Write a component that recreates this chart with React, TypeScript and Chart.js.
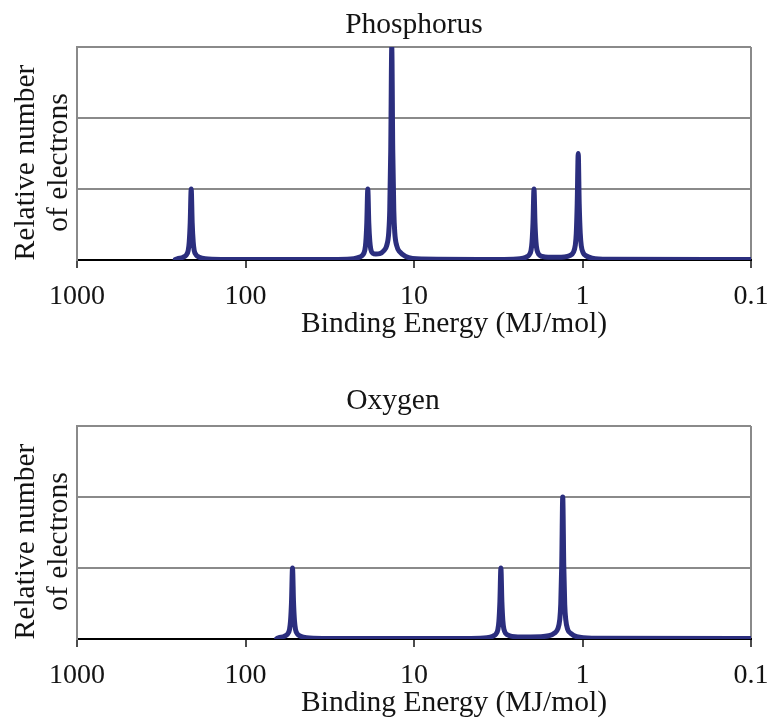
import React, { useEffect, useRef } from 'react';
import { Chart, registerables } from 'chart.js';

Chart.register(...registerables);

const FONT = '"Liberation Serif", "Times New Roman", serif';

const X_TICKS = [1000, 100, 10, 1, 0.1];
const X_TITLE = 'Binding Energy (MJ/mol)';
const Y_TITLE = ['Relative number', 'of electrons'];
const P_TITLE = 'Phosphorus';
const O_TITLE = 'Oxygen';

// Phosphorus spectrum (binding energy in MJ/mol, relative number of electrons)
const pEnergy = [
  261, 254.2, 234.2, 224.8, 218.8, 215.8, 212.9, 210, 207.2, 204.3, 201.6, 196.1, 188.3, 173.5, 139.4,
  28.3, 22.76, 20.97, 20.13, 19.59, 19.32, 19.06, 18.8, 18.55, 18.29, 18.05, 17.56, 16.85, 15.96, 15.11,
  14.51, 14.12, 13.93, 13.74, 13.55, 13.37, 13.18, 13.01, 12.66, 12.15, 11.19, 9.0,
  2.92, 2.349, 2.164, 2.077, 2.021, 1.994, 1.967, 1.94, 1.914, 1.888, 1.862, 1.812, 1.739, 1.6,
  1.283, 1.182, 1.135, 1.104, 1.089, 1.075, 1.06, 1.046, 1.031, 1.017, 0.99, 0.95, 0.876, 0.704, 0.1,
];
const pCount = [
  0.01, 0.035, 0.08, 0.14, 0.27, 0.5, 1.05, 2, 1.05, 0.5, 0.27, 0.14, 0.08, 0.035, 0.016,
  0.016, 0.035, 0.082, 0.142, 0.272, 0.5, 1.05, 2, 1.05, 0.52, 0.3, 0.19, 0.17, 0.18, 0.26,
  0.41, 0.78, 1.4, 3.1, 6, 3.1, 1.4, 0.78, 0.4, 0.23, 0.1, 0.028,
  0.016, 0.035, 0.08, 0.14, 0.27, 0.5, 1.05, 2, 1.05, 0.5, 0.28, 0.15, 0.1, 0.075,
  0.085, 0.13, 0.21, 0.41, 0.74, 1.58, 3, 1.58, 0.74, 0.4, 0.2, 0.115, 0.05, 0.019, 0.012,
];

// Oxygen spectrum
const oEnergy = [
  65.3, 63.68, 58.67, 56.32, 54.8, 54.06, 53.32, 52.6, 51.89, 51.18, 50.49, 49.13, 47.16, 43.45, 34.93,
  4.593, 3.692, 3.402, 3.266, 3.178, 3.134, 3.092, 3.05, 3.009, 2.968, 2.928, 2.849, 2.734, 2.519,
  2.03,
  1.586, 1.461, 1.403, 1.365, 1.346, 1.328, 1.31, 1.292, 1.275, 1.257, 1.224, 1.174, 1.082, 0.87, 0.1,
];
const oCount = [
  0.01, 0.035, 0.08, 0.14, 0.27, 0.5, 1.05, 2, 1.05, 0.5, 0.27, 0.14, 0.08, 0.035, 0.016,
  0.016, 0.035, 0.08, 0.14, 0.27, 0.5, 1.05, 2, 1.05, 0.5, 0.28, 0.15, 0.1, 0.065,
  0.055,
  0.09, 0.17, 0.28, 0.54, 0.98, 2.1, 4, 2.1, 0.98, 0.54, 0.27, 0.16, 0.065, 0.024, 0.012,
];

const LINE_COLOR = '#2b2e7e';
const GRID_COLOR = '#8a8a8a';
const TEXT_COLOR = '#141414';

type PanelProps = {
  title: string;
  titleX: number;
  titleBaseline: number;
  energy: number[];
  count: number[];
  width: number;
  height: number;
  padTop: number;
  padBottom: number;
};

function Panel({ title, titleX, titleBaseline, energy, count, width, height, padTop, padBottom }: PanelProps) {
  const ref = useRef<HTMLCanvasElement | null>(null);

  useEffect(() => {
    if (!ref.current) return;
    const textPlugin = {
      id: 'panelText',
      afterDraw(chart: any) {
        const { ctx, chartArea } = chart;
        ctx.save();
        ctx.font = `29.5px ${FONT}`;
        ctx.fillStyle = TEXT_COLOR;
        ctx.textAlign = 'center';
        ctx.textBaseline = 'alphabetic';
        // plot title
        ctx.fillText(title, titleX, titleBaseline);
        // x axis title
        ctx.fillText(X_TITLE, 454, chartArea.bottom + 72);
        // y axis title (two rotated lines)
        const cy = (chartArea.top + chartArea.bottom) / 2 + 9;
        Y_TITLE.forEach((t, i) => {
          ctx.save();
          ctx.translate(33.5 + i * 33.4, cy);
          ctx.rotate(-Math.PI / 2);
          ctx.fillText(t, 0, 0);
          ctx.restore();
        });
        ctx.restore();
      },
    };

    const chart = new Chart(ref.current, {
      type: 'line',
      data: {
        datasets: [
          {
            data: energy.map((e, i) => ({ x: e, y: count[i] })),
            borderColor: LINE_COLOR,
            borderWidth: 5,
            pointRadius: 0,
            cubicInterpolationMode: 'monotone',
            borderJoinStyle: 'round',
            borderCapStyle: 'round',
            fill: false,
          },
        ],
      },
      options: {
        animation: false,
        responsive: false,
        maintainAspectRatio: false,
        layout: { padding: { top: padTop, right: 20, bottom: padBottom, left: 0 } },
        plugins: {
          legend: { display: false },
          tooltip: { enabled: false },
          title: { display: false },
        },
        scales: {
          x: {
            type: 'logarithmic',
            min: 0.1,
            max: 1000,
            reverse: true,
            afterBuildTicks: (s: any) => {
              s.ticks = X_TICKS.map((v) => ({ value: v }));
            },
            afterFit: (s: any) => {
              s.height = 80;
              s.paddingLeft = 0;
              s.paddingRight = 0;
            },
            ticks: {
              autoSkip: false,
              maxRotation: 0,
              padding: 12,
              color: TEXT_COLOR,
              font: { family: FONT, size: 28 },
              callback: (v: any) => String(v),
            },
            grid: {
              color: (c: any) => (c.tick && c.tick.value === 0.1 ? GRID_COLOR : 'rgba(0,0,0,0)'),
              lineWidth: 2,
              tickColor: '#111',
              tickWidth: 1.5,
              tickLength: 8,
            },
            border: { display: true, color: '#000', width: 2 },
            title: { display: false },
          },
          y: {
            min: 0,
            max: 6,
            afterFit: (s: any) => {
              s.width = 77;
            },
            ticks: { display: false, stepSize: 2 },
            grid: { color: GRID_COLOR, lineWidth: 2, drawTicks: false },
            border: { display: true, color: GRID_COLOR, width: 2 },
          },
        },
      } as any,
      plugins: [textPlugin],
    });
    return () => chart.destroy();
  }, [title, titleX, titleBaseline, energy, count, width, height, padTop, padBottom]);

  return <canvas ref={ref} width={width} height={height} style={{ display: 'block', width, height }} />;
}

export default function App() {
  return (
    <div style={{ position: 'absolute', left: 0, top: 0, width: 771, height: 719, background: '#fff' }}>
      <Panel
        title={P_TITLE}
        titleX={414}
        titleBaseline={33}
        energy={pEnergy}
        count={pCount}
        width={771}
        height={360}
        padTop={47}
        padBottom={20}
      />
      <Panel
        title={O_TITLE}
        titleX={393}
        titleBaseline={48.5}
        energy={oEnergy}
        count={oCount}
        width={771}
        height={359}
        padTop={66}
        padBottom={0}
      />
    </div>
  );
}
